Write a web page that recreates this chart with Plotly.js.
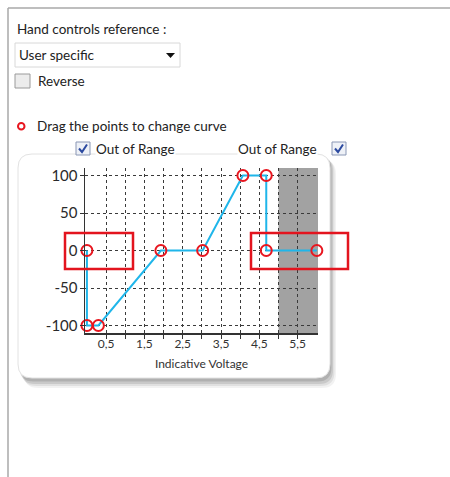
<!DOCTYPE html>
<html>
<head>
<meta charset="utf-8">
<script src="https://cdn.plot.ly/plotly-3.0.1.min.js"></script>
<style>html,body{margin:0;padding:0;background:#fff;}#chart{width:450px;height:477px;}</style>
</head>
<body>
<div id="chart"></div>
<script>
// ---- data ----
const voltage = [0, 0, 0.3, 1.93, 3.02, 4.07, 4.68, 4.68, 6.0];
const reference = [0, -100, -100, 0, 0, 100, 100, 0, 0];
const xTickVals = [0.5, 1, 1.5, 2, 2.5, 3, 3.5, 4, 4.5, 5, 5.5];
const xTickText = ['0,5', '', '1,5', '', '2,5', '', '3,5', '', '4,5', '', '5,5'];
const yTickVals = [-100, -50, 0, 50, 100];
const yTickText = ['-100', '-50', '0', '50', '100'];
const outOfRangeStart = 5.0;
const outOfRangeEnd = 6.03;

// ---- layout helpers (pixel -> paper) ----
const L = 85, T = 168, W = 233, H = 165;
const PX = x => (x - L) / W;
const PY = y => 1 - (y - T) / H;
const FONT = 'Lato, "Open Sans", sans-serif';
const UI = 13.5;

function rect(x0, y0, x1, y1, line, fill, lw, layer) {
  return {type: 'rect', xref: 'paper', yref: 'paper', x0: PX(x0), x1: PX(x1), y0: PY(y1), y1: PY(y0),
    line: {color: line, width: lw === undefined ? 1 : lw}, fillcolor: fill, layer: layer || 'above'};
}
function roundRect(x0, y0, x1, y1, r) {
  const p = (x, y) => PX(x) + ',' + PY(y);
  return 'M' + p(x0 + r, y0) + ' L' + p(x1 - r, y0) + ' Q' + p(x1, y0) + ' ' + p(x1, y0 + r) +
    ' L' + p(x1, y1 - r) + ' Q' + p(x1, y1) + ' ' + p(x1 - r, y1) +
    ' L' + p(x0 + r, y1) + ' Q' + p(x0, y1) + ' ' + p(x0, y1 - r) +
    ' L' + p(x0, y0 + r) + ' Q' + p(x0, y0) + ' ' + p(x0 + r, y0) + ' Z';
}
function pathPx(pts, close) {
  return pts.map((q, i) => (i ? 'L' : 'M') + PX(q[0]) + ',' + PY(q[1])).join(' ') + (close ? ' Z' : '');
}
function txt(x, y, s, size, extra) {
  return Object.assign({xref: 'paper', yref: 'paper', x: PX(x), y: PY(y), text: s, showarrow: false,
    xanchor: 'left', yanchor: 'middle', borderpad: 0, font: {family: FONT, size: size, color: '#222'}}, extra || {});
}
function checkbox(x0, y0, checked) {
  const s = [rect(x0, y0, x0 + 14, y0 + 13, '#8a97b5', '#eef1f7', 1)];
  if (checked) s.push({type: 'path', xref: 'paper', yref: 'paper', layer: 'above',
    path: pathPx([[x0 + 3, y0 + 6.5], [x0 + 6, y0 + 10], [x0 + 11, y0 + 2.5]]),
    line: {color: '#2c4aa0', width: 2}});
  return s;
}

const shapes = [];
// outer frame
shapes.push({type: 'line', xref: 'paper', yref: 'paper', x0: PX(8), x1: PX(450), y0: PY(8), y1: PY(8), line: {color: '#a8a8a8', width: 1.5}, layer: 'below'});
shapes.push({type: 'line', xref: 'paper', yref: 'paper', x0: PX(8), x1: PX(8), y0: PY(8), y1: PY(477), line: {color: '#a8a8a8', width: 1.5}, layer: 'below'});
// panel shadow
[[6, 10, 0.05], [4.5, 8, 0.07], [3, 6, 0.1], [1.5, 3.5, 0.12]].forEach(s => {
  shapes.push({type: 'path', xref: 'paper', yref: 'paper', layer: 'below', path: roundRect(18 + s[0], 154 + s[0], 330 + s[0], 378 + s[1], 14),
    fillcolor: 'rgba(0,0,0,' + s[2] + ')', line: {width: 0}});
});
// panel
shapes.push({type: 'path', xref: 'paper', yref: 'paper', layer: 'below', path: roundRect(18, 154, 330, 378, 14),
  fillcolor: '#ffffff', line: {color: '#e2e2e2', width: 1}});
// dropdown
shapes.push(rect(15, 43, 180, 67, '#d8d8d8', '#ffffff', 1, 'below'));
shapes.push({type: 'path', xref: 'paper', yref: 'paper', layer: 'below', path: pathPx([[166, 53], [175, 53], [170.5, 58]], true), fillcolor: '#111', line: {width: 0}});
// reverse checkbox
shapes.push(rect(15, 74, 30, 88, '#9a9a9a', '#ececec', 1, 'below'));
// red legend circle
shapes.push({type: 'circle', xref: 'paper', yref: 'paper', x0: PX(18), x1: PX(24.5), y0: PY(129.5), y1: PY(123), line: {color: '#e8161f', width: 2}, layer: 'below'});
// out of range checkboxes
checkbox(76, 142, true).forEach(s => shapes.push(s));
checkbox(332, 142, true).forEach(s => shapes.push(s));
// out of range region
shapes.push({type: 'rect', xref: 'x', yref: 'paper', x0: outOfRangeStart, x1: outOfRangeEnd, y0: 0, y1: 1,
  fillcolor: '#a2a2a2', line: {width: 0}, layer: 'between'});
// red highlight boxes
shapes.push(rect(65, 233, 133, 269, '#e3141e', 'rgba(0,0,0,0)', 2.5, 'above'));
shapes.push(rect(251, 233, 348, 269, '#e3141e', 'rgba(0,0,0,0)', 2.5, 'above'));

const annotations = [
  txt(16, 29, 'Hand controls reference :', UI),
  txt(18, 55, 'User specific', UI),
  txt(37, 81, 'Reverse', UI),
  txt(36, 126, 'Drag the points to change curve', UI),
  txt(95, 148.5, 'Out of Range', UI, {bgcolor: '#ffffff'}),
  txt(237, 148.5, 'Out of Range', UI, {bgcolor: '#ffffff'})
];

const trace = {
  x: voltage, y: reference, type: 'scatter', mode: 'lines+markers', cliponaxis: false,
  line: {color: '#1fb6ea', width: 2},
  marker: {symbol: 'circle-open', size: 11, color: '#e8161f', line: {width: 2, color: '#e8161f'}},
  hoverinfo: 'x+y'
};

const layout = {
  width: 450, height: 477,
  margin: {l: L, r: 450 - L - W, t: T, b: 477 - T - H, pad: 0},
  paper_bgcolor: '#ffffff', plot_bgcolor: 'rgba(0,0,0,0)',
  showlegend: false,
  font: {family: FONT, color: '#333'},
  xaxis: {
    range: [-0.05, outOfRangeEnd], tickvals: xTickVals, ticktext: xTickText,
    showgrid: true, gridcolor: '#3a3a3a', griddash: 'dot', gridwidth: 1, zeroline: false,
    showline: true, linecolor: '#333', linewidth: 1.5,
    ticks: 'outside', ticklen: 4, tickcolor: '#333', tickfont: {size: 12, color: '#333'},
    ticklabelstandoff: -5,
    title: {text: 'Indicative Voltage', font: {size: 12, color: '#333'}, standoff: 9},
    fixedrange: true
  },
  yaxis: {
    range: [-110, 110], tickvals: yTickVals, ticktext: yTickText,
    showgrid: true, gridcolor: '#3a3a3a', griddash: 'dot', gridwidth: 1, zeroline: false,
    showline: true, linecolor: '#333', linewidth: 1.5,
    ticks: 'outside', ticklen: 4, tickcolor: '#333', tickfont: {size: 15, color: '#2a2a2a'},
    ticklabelstandoff: -1,
    fixedrange: true
  },
  shapes: shapes,
  annotations: annotations
};

Plotly.newPlot('chart', [trace], layout, {displayModeBar: false, staticPlot: true});
</script>
</body>
</html>
